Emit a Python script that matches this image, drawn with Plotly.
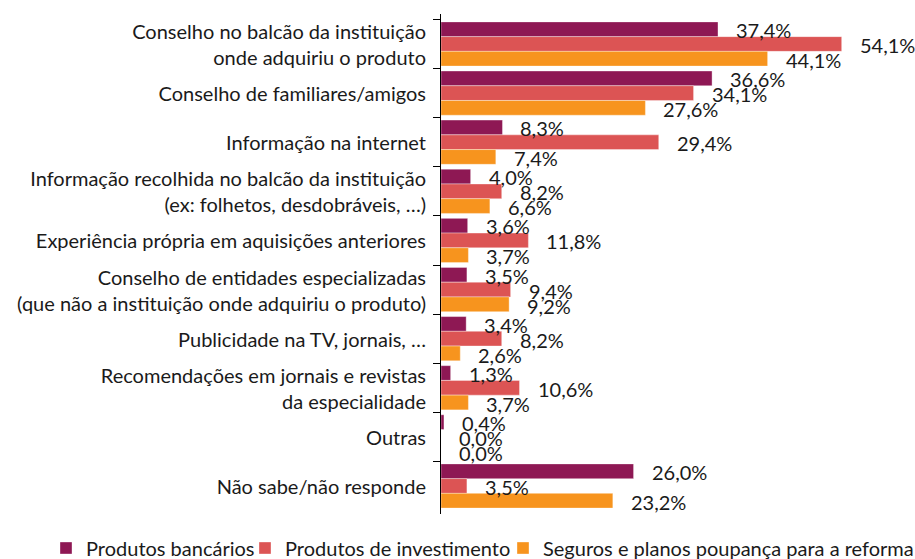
import plotly.graph_objects as go

categories = [
    "Conselho no balcão da instituição<br>onde adquiriu o produto",
    "Conselho de familiares/amigos",
    "Informação na internet",
    "Informação recolhida no balcão da instituição<br>(ex: folhetos, desdobráveis, …)",
    "Experiência própria em aquisições anteriores",
    "Conselho de entidades especializadas<br>(que não a instituição onde adquiriu o produto)",
    "Publicidade na TV, jornais, …",
    "Recomendações em jornais e revistas<br>da especialidade",
    "Outras",
    "Não sabe/não responde",
]

series_names = [
    "Produtos bancários",
    "Produtos de investimento",
    "Seguros e planos poupança para a reforma",
]
bancarios = [37.4, 36.6, 8.3, 4.0, 3.6, 3.5, 3.4, 1.3, 0.4, 26.0]
investimento = [54.1, 34.1, 29.4, 8.2, 11.8, 9.4, 8.2, 10.6, 0.0, 3.5]
seguros = [44.1, 27.6, 7.4, 6.6, 3.7, 9.2, 2.6, 3.7, 0.0, 23.2]
series_values = [bancarios, investimento, seguros]
colors = ["#8E1854", "#DC5454", "#F7941E"]

FONT = "Lato"
FS = 20
TXT = "#1a1a1a"

# one single-entry legend per series, laid out in a row under the chart
legend_ids = ["legend", "legend2", "legend3"]
legend_x = [46, 245, 503]

fig = go.Figure()
for name, vals, col, lid in zip(series_names, series_values, colors, legend_ids):
    fig.add_trace(go.Bar(
        y=categories, x=vals, name=name, orientation="h", legend=lid,
        showlegend=True,
        marker=dict(color=col, line=dict(color="rgba(255,255,255,0.6)", width=0.6)),
    ))

# value labels sit a little to the right of each bar end
bar_px = 500 / len(categories) * 0.9 / 3
for k, vals in enumerate(series_values):
    for cat, v in zip(categories, vals):
        fig.add_annotation(
            x=v, y=cat, xref="x", yref="y",
            text=f"{v:.1f}%".replace(".", ","),
            showarrow=False, xanchor="left", yanchor="middle",
            xshift=16, yshift=(1 - k) * bar_px - 1,
            font=dict(family=FONT, size=FS, color=TXT),
        )

legend_style = {}
for lid, lx in zip(legend_ids, legend_x):
    legend_style[lid] = dict(
        orientation="h", xref="container", yref="container",
        x=lx / 915, y=11 / 559, xanchor="left", yanchor="middle",
        font=dict(family=FONT, size=FS, color=TXT),
        itemwidth=30, bgcolor="rgba(0,0,0,0)",
    )

fig.update_layout(
    width=915, height=559,
    showlegend=True,
    margin=dict(l=441, r=0, t=14, b=45, autoexpand=False),
    paper_bgcolor="white", plot_bgcolor="white",
    barmode="group", bargap=0.1, bargroupgap=0,
    font=dict(family=FONT, size=FS, color=TXT),
    xaxis=dict(range=[0, 64.0], visible=False),
    yaxis=dict(
        autorange="reversed", showline=True, linecolor="black", linewidth=1,
        ticks="outside", ticklen=7, tickcolor="black", tickson="boundaries",
        showgrid=False, ticklabelstandoff=10, ticklabelshift=-1,
        tickfont=dict(family=FONT, size=FS, color=TXT),
    ),
    **legend_style,
)

fig.write_html("out.html")
